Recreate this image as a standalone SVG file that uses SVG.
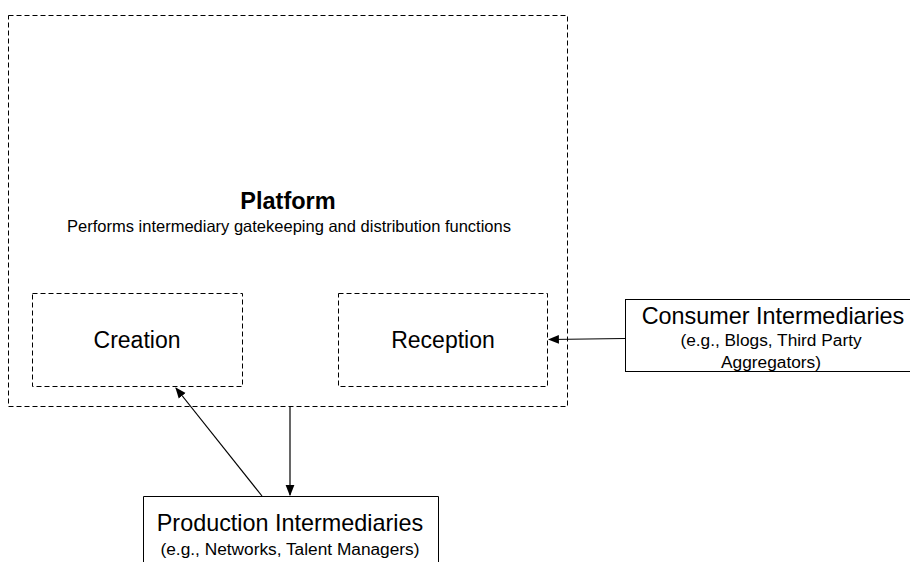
<svg xmlns="http://www.w3.org/2000/svg" width="910" height="562" viewBox="0 0 910 562">
  <style>
    text { font-family: "Liberation Sans", Arial, sans-serif; fill: #000; text-anchor: middle; }
    .dash { fill: none; stroke: #000; stroke-width: 1; stroke-dasharray: 5 3; }
    .solid { fill: #fff; stroke: #000; stroke-width: 1; }
    .conn { stroke: #000; stroke-width: 1.2; fill: none; marker-end: url(#arrow); }
    .title { font-size: 23.4px; }
    .sub { font-size: 17.3px; }
    .inner { font-size: 23px; }
  </style>
  <defs>
    <marker id="arrow" viewBox="0 0 10 10" refX="9" refY="5" markerWidth="11" markerHeight="11" markerUnits="userSpaceOnUse" orient="auto">
      <path d="M0,1 L10,5 L0,9 Z" fill="#000"/>
    </marker>
  </defs>
  <rect width="910" height="562" fill="#fff"/>

  <g id="platform">
    <rect class="dash" x="8.5" y="15.5" width="559" height="391"/>
    <text x="288" y="209" style="font-size:23.5px;font-weight:bold">Platform</text>
    <text x="289" y="232" style="font-size:16.5px">Performs intermediary gatekeeping and distribution functions</text>
  </g>

  <g id="creation">
    <rect class="dash" x="32.5" y="293.5" width="210" height="93"/>
    <text class="inner" x="137" y="348">Creation</text>
  </g>

  <g id="reception">
    <rect class="dash" x="338.5" y="293.5" width="209" height="93"/>
    <text class="inner" x="443" y="348">Reception</text>
  </g>

  <g id="consumer">
    <rect class="solid" x="625.5" y="299.5" width="300" height="72"/>
    <text class="title" x="773" y="324">Consumer Intermediaries</text>
    <text class="sub" x="771" y="346">(e.g., Blogs, Third Party</text>
    <text class="sub" x="771" y="368">Aggregators)</text>
  </g>

  <g id="production">
    <path class="solid" d="M143.5,570 V496.5 H438.5 V570"/>
    <text class="title" x="290" y="531">Production Intermediaries</text>
    <text class="sub" x="290" y="555">(e.g., Networks, Talent Managers)</text>
  </g>

  <g id="connectors">
    <line class="conn" x1="625" y1="338.5" x2="549" y2="339.5"/>
    <line class="conn" x1="262" y1="496" x2="176" y2="388"/>
    <line class="conn" x1="290" y1="407" x2="290" y2="495"/>
  </g>
</svg>
